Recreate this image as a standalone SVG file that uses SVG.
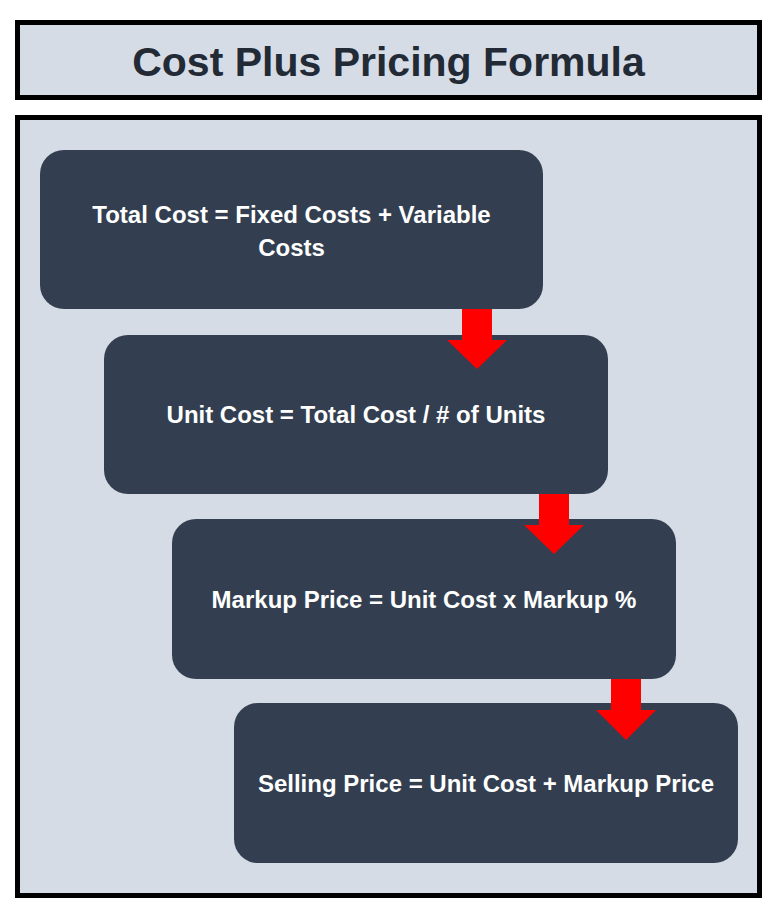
<svg xmlns="http://www.w3.org/2000/svg" width="779" height="917" viewBox="0 0 779 917">
<style>
.frame{fill:#D6DCE5;stroke:#000000;stroke-width:5}
.node{fill:#333F50}
.title{font-family:"Liberation Sans",Arial,sans-serif;font-weight:bold;font-size:41px;fill:#222A35;text-anchor:middle}
.lbl{font-family:"Liberation Sans",Arial,sans-serif;font-weight:bold;font-size:24px;fill:#FFFFFF;text-anchor:middle}
.arrow{fill:#FF0000}
</style>
<rect width="779" height="917" fill="#FFFFFF"/>
<g id="title">
<rect class="frame" x="17.5" y="22.5" width="742" height="75"/>
<text class="title" x="388.5" y="76">Cost Plus Pricing Formula</text>
</g>
<rect id="panel" class="frame" x="17.5" y="117.5" width="742" height="778"/>
<g id="node1">
<rect class="node" x="40" y="150" width="503" height="159" rx="24"/>
<text class="lbl" x="291.5" y="223">Total Cost = Fixed Costs + Variable</text>
<text class="lbl" x="291.5" y="256">Costs</text>
</g>
<g id="node2">
<rect class="node" x="104" y="335" width="504" height="159" rx="24"/>
<text class="lbl" x="356" y="423">Unit Cost = Total Cost / # of Units</text>
</g>
<g id="node3">
<rect class="node" x="172" y="519" width="504" height="160" rx="24"/>
<text class="lbl" x="424" y="608">Markup Price = Unit Cost x Markup %</text>
</g>
<g id="node4">
<rect class="node" x="234" y="703" width="504" height="160" rx="24"/>
<text class="lbl" x="486" y="792">Selling Price = Unit Cost + Markup Price</text>
</g>
<g id="connectors">
<polygon class="arrow" points="462,309 492,309 492,340 507,340 477,369 447,340 462,340"/>
<polygon class="arrow" points="539,494 569,494 569,525 584,525 554,554 524,525 539,525"/>
<polygon class="arrow" points="611,679 641,679 641,710 656,710 626,740 596,710 611,710"/>
</g>
</svg>
